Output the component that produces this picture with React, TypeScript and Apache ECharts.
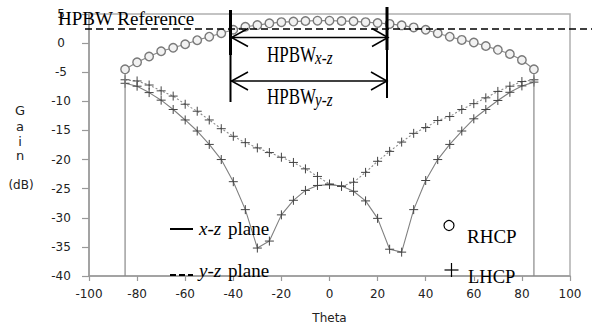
import React, { useEffect, useRef } from "react";
import * as echarts from "echarts";

// Theta (deg) sample angles
const thetaDeg = [-85, -80, -75, -70, -65, -60, -55, -50, -45, -40, -35, -30, -25, -20, -15, -10, -5, 0, 5, 10, 15, 20, 25, 30, 35, 40, 45, 50, 55, 60, 65, 70, 75, 80, 85];

// RHCP gain (dB) – circles
const rhcpGain = [-4.5, -3.3, -2.3, -1.4, -0.8, -0.2, 0.5, 1.1, 1.7, 2.3, 2.8, 3.1, 3.4, 3.6, 3.7, 3.8, 3.85, 3.85, 3.8, 3.75, 3.6, 3.45, 3.3, 3.05, 2.7, 2.3, 1.7, 1.1, 0.55, 0.1, -0.5, -1.15, -1.87, -2.9, -4.5];

// LHCP gain (dB), x-z plane (solid)
const lhcpXZGain = [-6.9, -7.4, -8.5, -9.8, -11.4, -13.2, -15.1, -17.4, -20.0, -23.8, -28.6, -35.2, -34.0, -29.5, -27.0, -25.3, -24.45, -24.3, -24.55, -25.45, -27.1, -30.1, -35.4, -35.9, -28.6, -23.6, -20.0, -17.4, -15.1, -13.0, -11.4, -9.85, -8.45, -7.35, -6.7];

// LHCP gain (dB), y-z plane (dotted)
const lhcpYZGain = [-6.3, -6.5, -7.2, -8.2, -9.1, -10.5, -11.7, -13.2, -14.7, -16.0, -17.1, -18.0, -18.8, -19.6, -20.5, -21.6, -22.9, -24.2, -24.6, -23.9, -22.2, -20.3, -18.6, -17.0, -15.5, -14.5, -13.3, -12.6, -11.4, -10.4, -9.4, -8.3, -7.4, -6.6, -6.3];

const gainFloor = -40;

const SERIF = '"Liberation Serif", "Times New Roman", serif';
const SANS = '"DejaVu Sans", Verdana, sans-serif';

const PLUS = "path://M0,5L10,5M5,0L5,10";

function serifText(text: string, left: number, baseline: number, size: number, opts: any = {}) {
  return {
    type: "text",
    x: left,
    y: baseline,
    scaleX: opts.scaleX ?? 1,
    scaleY: opts.scaleY ?? 1,
    z: 100,
    style: {
      text,
      x: 0,
      y: -0.34 * size,
      font: `${opts.italic ? "italic " : ""}${size}px ${SERIF}`,
      fill: "#000",
      textAlign: "left",
      textVerticalAlign: "middle",
    },
  };
}

function sansText(text: string, cx: number, cy: number, size: number) {
  return {
    type: "text",
    x: cx,
    y: cy,
    z: 100,
    style: {
      text,
      x: 0,
      y: 0,
      font: `${size}px ${SANS}`,
      fill: "#222",
      textAlign: "center",
      textVerticalAlign: "middle",
    },
  };
}

function seg(x1: number, y1: number, x2: number, y2: number, w: number, dash?: number[]) {
  return {
    type: "line",
    z: 100,
    shape: { x1, y1, x2, y2 },
    style: { stroke: "#000", lineWidth: w, lineDash: dash || null },
  };
}

function poly(points: number[][], w: number) {
  return {
    type: "polyline",
    z: 100,
    shape: { points },
    style: { stroke: "#000", lineWidth: w, fill: "none" },
  };
}

export default function App() {
  const ref = useRef<HTMLDivElement>(null);

  useEffect(() => {
    if (!ref.current) return;
    const chart = echarts.init(ref.current, null, { renderer: "svg" });

    const pts = (g: number[]) => thetaDeg.map((t, i) => [t, g[i]]);
    const rhcpData: any[] = [
      { value: [thetaDeg[0], gainFloor], symbol: "none" },
      ...pts(rhcpGain),
      { value: [thetaDeg[thetaDeg.length - 1], gainFloor], symbol: "none" },
    ];

    const option: any = {
      animation: false,
      backgroundColor: "#fff",
      grid: {
        left: 89,
        top: 14,
        width: 481,
        height: 269,
        show: true,
        borderColor: "#b0b0b0",
        borderWidth: 1.5,
        backgroundColor: "transparent",
      },
      xAxis: {
        type: "value",
        min: -100,
        max: 100,
        interval: 20,
        name: "Theta",
        nameLocation: "middle",
        nameGap: 36,
        nameTextStyle: { fontFamily: SANS, fontSize: 12, color: "#222" },
        axisLine: { show: true, onZero: false, lineStyle: { color: "#999", width: 1.5 } },
        axisTick: { show: true, length: 5, lineStyle: { color: "#999", width: 1.2 } },
        axisLabel: { margin: 12, fontFamily: SANS, fontSize: 12, color: "#222" },
        splitLine: { show: false },
      },
      yAxis: {
        type: "value",
        min: -40,
        max: 5,
        interval: 5,
        axisLine: { show: true, onZero: false, lineStyle: { color: "#999", width: 1.5 } },
        axisTick: { show: true, length: 7, lineStyle: { color: "#999", width: 1.2 } },
        axisLabel: { margin: 28, align: "center", fontFamily: SANS, fontSize: 12, color: "#222" },
        splitLine: { show: false },
      },
      series: [
        {
          name: "RHCP",
          type: "line",
          data: rhcpData,
          symbol: "circle",
          symbolSize: 8.5,
          lineStyle: { color: "#888", width: 1.2 },
          itemStyle: { color: "#f2f2f2", borderColor: "#7a7a7a", borderWidth: 1.4 },
          z: 3,
        },
        {
          name: "LHCP x-z",
          type: "line",
          data: pts(lhcpXZGain),
          symbol: PLUS,
          symbolSize: 9,
          lineStyle: { color: "#808080", width: 1.1 },
          itemStyle: { color: "#444", borderColor: "#444", borderWidth: 1 },
          z: 2,
        },
        {
          name: "LHCP y-z",
          type: "line",
          data: pts(lhcpYZGain),
          symbol: PLUS,
          symbolSize: 9,
          lineStyle: { color: "#8a8a8a", width: 1.1, type: [2, 2] },
          itemStyle: { color: "#444", borderColor: "#444", borderWidth: 1 },
          z: 2,
        },
      ],
      graphic: [
        // HPBW reference dashed line
        seg(85, 29, 592, 29, 1.6, [7, 4]),
        serifText("HPBW Reference", 58, 25, 19),
        // vertical HPBW limits
        seg(230.5, 10, 230.5, 55, 3),
        seg(230.5, 55, 230.5, 102, 2),
        seg(387, 7, 387, 50, 3),
        seg(387, 50, 387, 98, 2),
        // arrows
        seg(231, 37.5, 388, 37.5, 1.5),
        poly([[248, 28.5], [231.5, 37.5], [248, 46.5]], 1.5),
        poly([[372, 28.5], [388, 37.5], [372, 46.5]], 1.5),
        seg(231, 81, 387, 81, 1.5),
        poly([[248, 72], [231.5, 81], [248, 90]], 1.5),
        poly([[371, 72], [387, 81], [371, 90]], 1.5),
        serifText("HPBW", 267, 62, 17, { scaleY: 1.4 }),
        serifText("x-z", 315, 64, 15, { italic: true, scaleY: 1.3 }),
        serifText("HPBW", 267, 104, 17, { scaleY: 1.4 }),
        serifText("y-z", 315, 106, 15, { italic: true, scaleY: 1.3 }),
        // legend
        seg(170, 229, 193, 229, 2),
        serifText("x-z", 199, 235, 19, { italic: true }),
        serifText("plane", 228, 235, 19),
        seg(170, 275, 193, 275, 2, [6, 3]),
        serifText("y-z", 199, 277, 19, { italic: true }),
        serifText("plane", 228, 277, 19),
        {
          type: "circle",
          z: 100,
          shape: { cx: 449, cy: 225.5, r: 5 },
          style: { stroke: "#000", fill: "none", lineWidth: 1.2 },
        },
        serifText("RHCP", 467, 243, 19),
        seg(444.5, 270, 458.5, 270, 1.2),
        seg(451.5, 263, 451.5, 277, 1.2),
        serifText("LHCP", 468, 283, 18.5),
        // y-axis title
        sansText("G", 20, 110, 13),
        sansText("a", 20, 126, 13),
        sansText("i", 20, 141, 13),
        sansText("n", 20, 155, 13),
        sansText("(dB)", 21, 185, 12),
      ],
    };

    chart.setOption(option);
    return () => chart.dispose();
  }, []);

  return (
    <div
      ref={ref}
      style={{ position: "absolute", left: 0, top: 0, width: 592, height: 329, background: "#fff" }}
    />
  );
}
